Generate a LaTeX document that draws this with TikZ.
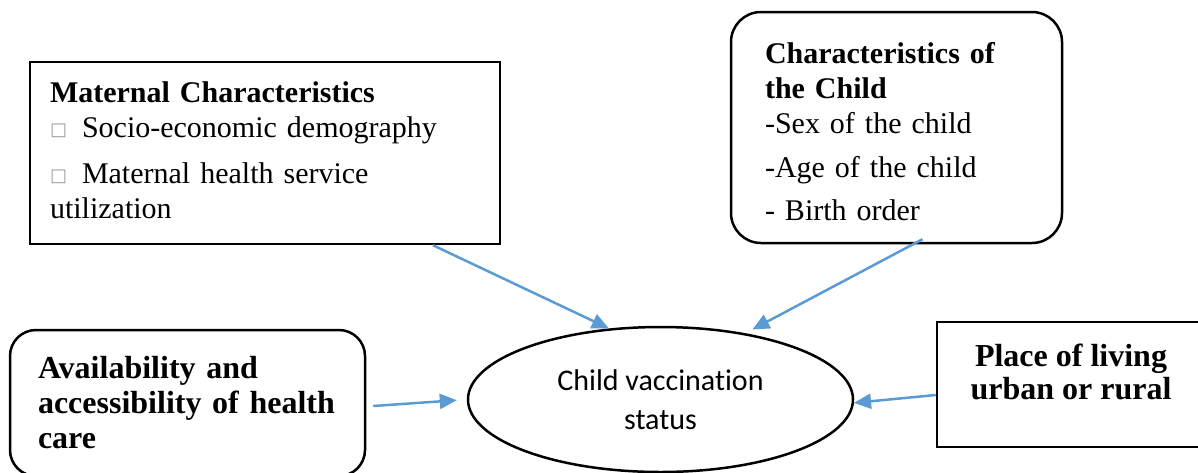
\documentclass[tikz,border=0pt]{standalone}
\usepackage{fontspec}
\setmainfont{Liberation Serif}
\newfontfamily\calibrifont{Carlito}[Ligatures=NoCommon]
\newfontfamily\symbolfont{DejaVu Sans}
\usetikzlibrary{positioning,shapes.geometric,arrows.meta}
\definecolor{linkblue}{HTML}{5B9BD5}
\definecolor{boxgray}{HTML}{9A9A9A}
\newcommand{\itembox}{\raisebox{2.5pt}{\symbolfont\fontsize{18}{18}\selectfont\color{boxgray}□}\hspace{15pt}}

\begin{document}
\begin{tikzpicture}[x=1pt, y=-1pt,
    factor/.style={draw=black, line width=2.5pt, align=left,
      font=\fontsize{30}{35}\selectfont},
    bigfactor/.style={factor, font=\fontsize{32}{35}\selectfont\bfseries},
    link/.style={draw=linkblue, line width=2.5pt,
      -{Triangle[length=17pt,width=15pt]}}]
  \useasboundingbox (0,0) rectangle (1198,472);

  \node[factor, minimum width=470pt, minimum height=182pt,
    inner xsep=20pt, text width=430pt] (maternal) at (265,153) {%
    \textbf{Maternal Characteristics}\\
    \itembox Socio-economic demography\\[11pt]
    \itembox Maternal health service\\
    utilization\\[-30pt]
    \mbox{}};

  \node[factor, rounded corners=30pt, minimum width=331pt, minimum height=231pt,
    inner xsep=34pt, text width=263pt] (child) at (896.5,127.5) {%
    \mbox{}\\[-5pt]
    \textbf{Characteristics of}\\
    \textbf{the Child}\\
    -Sex of the child\\[9pt]
    -Age of the child\\[8pt]
    - Birth order};

  \node[bigfactor, rounded corners=26pt, minimum width=355pt, minimum height=146pt,
    inner xsep=28pt, text width=299pt] (access) at (187.5,403) {%
    Availability and\\
    accessibility of health\\
    care};

  \node[bigfactor, align=center, minimum width=268pt, minimum height=125pt,
    font=\fontsize{32}{33}\selectfont\bfseries] (place) at (1071,384.5) {%
    Place of living\\
    urban or rural\\[-8pt]
    \mbox{}};

  \node[ellipse, draw=black, line width=2.5pt, inner sep=0pt,
    minimum width=385pt, minimum height=145pt, align=center,
    font=\calibrifont\fontsize{30}{39}\selectfont] (status) at (660.5,399.5) {%
    Child vaccination\\
    status};

  \draw[link] ([xshift=168pt]maternal.south) -- (status.126);
  \draw[link, shorten >=8pt] ([xshift=26pt,yshift=5pt]child.south) -- (status.38);
  \draw[link, shorten >=10pt] ([xshift=7pt,yshift=-3pt]access.east) -- (status.west);
  \draw[link] ([yshift=-10.5pt]place.west) -- (status.-1.5);
\end{tikzpicture}
\end{document}
